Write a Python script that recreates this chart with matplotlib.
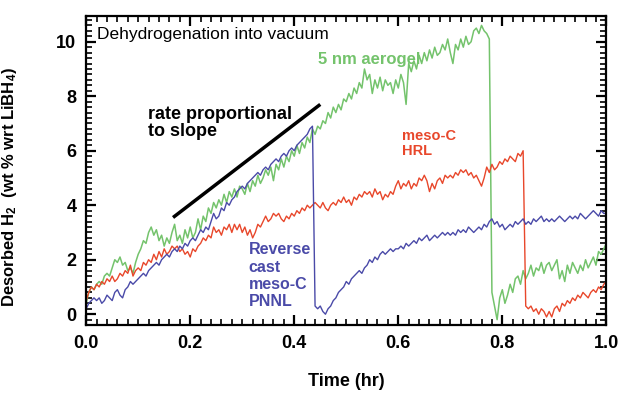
import numpy as np
import matplotlib
matplotlib.use('Agg')
import matplotlib.pyplot as plt
from matplotlib.ticker import MultipleLocator

plt.rcParams['font.family'] = ['Liberation Sans', 'DejaVu Sans']
plt.rcParams['mathtext.fontset'] = 'custom'
plt.rcParams['mathtext.bf'] = 'Liberation Sans:bold'
plt.rcParams['mathtext.rm'] = 'Liberation Sans:bold'
plt.rcParams['mathtext.default'] = 'bf'

# time grid (hr), one reading every 0.005 hr
t = np.round(np.arange(0, 201) * 0.005, 3)

aerogel = [
    0.4, 0.8, 1.0, 0.9, 1.1, 1.2, 1.1, 1.4, 1.5, 1.4, 1.7, 2.0, 1.9, 2.1, 1.8, 1.9, 1.6, 1.7, 1.5, 1.9,
    2.2, 2.4, 2.7, 2.6, 3.0, 3.2, 2.9, 3.1, 2.7, 2.9, 2.5, 2.8, 2.6, 3.0, 3.3, 2.7, 2.9, 2.6, 3.1, 2.8,
    3.2, 2.8, 3.0, 3.5, 3.1, 3.6, 3.4, 3.9, 3.7, 4.1, 3.9, 4.2, 4.0, 4.4, 4.1, 4.5, 4.3, 4.6, 4.3, 4.7,
    4.6, 4.4, 4.8, 4.5, 4.9, 4.7, 5.1, 4.8, 5.0, 5.3, 5.1, 5.4, 4.9, 5.5, 5.3, 5.7, 5.4, 5.8, 5.6, 6.0,
    5.8, 6.2, 5.9, 6.3, 6.1, 6.5, 6.3, 6.8, 6.6, 6.9, 6.8, 7.1, 7.0, 7.4, 7.2, 7.6, 7.4, 7.7, 7.5, 7.9,
    7.8, 8.1, 7.9, 8.3, 8.1, 8.5, 8.3, 9.0, 8.6, 8.8, 8.1, 8.6, 8.3, 8.7, 8.2, 8.6, 8.4, 8.5, 8.1, 8.6,
    8.3, 8.8, 8.5, 7.7, 9.2, 8.9, 9.3, 9.0, 9.5, 9.2, 9.6, 9.3, 9.7, 9.4, 9.8, 9.5, 9.6, 9.9, 9.7, 10.1,
    9.6, 9.2, 9.9, 9.7, 10.1, 9.8, 10.2, 9.9, 10.0, 10.4, 10.5, 10.3, 10.6, 10.4, 10.3, 10.1, 0.8, 0.3, -0.2, 0.6,
    0.9, 0.4, 0.7, 1.1, 0.8, 1.3, 1.4, 1.1, 1.6, 1.3, 1.5, 1.8, 1.4, 1.7, 1.6, 1.9, 1.5, 1.8, 1.9, 1.6,
    1.8, 2.0, 1.3, 1.6, 1.2, 1.8, 1.5, 1.9, 1.7, 1.5, 1.8, 1.6, 2.0, 1.7, 1.9, 2.1, 1.8, 2.3, 2.2, 2.4,
    2.6,
]

meso_hrl = [
    0.5, 0.8, 1.0, 0.9, 1.1, 1.0, 1.2, 1.1, 1.3, 1.2, 1.4, 1.2, 1.3, 1.5, 1.4, 1.6, 1.5, 1.8, 1.4, 1.6,
    1.7, 1.6, 1.9, 1.8, 2.0, 1.9, 2.2, 2.0, 2.3, 2.1, 2.4, 2.2, 2.3, 2.5, 2.4, 2.5, 2.3, 2.4, 2.2, 2.3,
    2.1, 2.4, 2.3, 2.5, 2.6, 2.8, 2.7, 2.9, 2.8, 3.2, 3.0, 3.1, 2.9, 3.2, 3.1, 3.3, 3.0, 3.3, 3.1, 3.3,
    3.0, 3.2, 2.9, 3.1, 2.8, 3.0, 3.3, 3.2, 3.4, 3.6, 3.4, 3.5, 3.7, 3.6, 3.7, 3.5, 3.4, 3.6, 3.5, 3.7,
    3.6, 3.8, 3.7, 3.9, 3.8, 4.0, 3.9, 4.0, 4.1, 4.0, 3.9, 4.1, 3.9, 3.8, 4.0, 4.1, 4.0, 4.2, 4.1, 4.3,
    4.1, 4.2, 4.0, 4.3, 4.2, 4.4, 4.3, 4.5, 4.4, 4.5, 4.3, 4.6, 4.4, 4.5, 4.2, 4.4, 4.3, 4.5, 4.4, 4.7,
    4.9, 4.6, 4.8, 4.7, 4.9, 4.6, 4.8, 4.7, 5.0, 4.9, 5.1, 4.9, 4.5, 4.8, 4.6, 4.9, 5.0, 4.8, 5.1, 5.0,
    5.1, 5.0, 5.2, 5.1, 5.3, 5.2, 5.3, 5.1, 5.2, 5.0, 5.1, 4.9, 4.7, 5.0, 5.4, 5.2, 5.5, 5.3, 5.4, 5.6,
    5.5, 5.7, 5.6, 5.8, 5.7, 5.6, 5.9, 5.8, 6.0, 0.3, 0.2, 0.3, 0.1, 0.2, 0.0, 0.2, 0.1, -0.1, 0.1, -0.1,
    0.2, 0.3, 0.1, 0.4, 0.3, 0.5, 0.4, 0.6, 0.5, 0.7, 0.6, 0.8, 0.7, 0.6, 0.8, 0.9, 0.8, 1.0, 0.9, 1.1,
    1.2,
]

meso_pnnl = [
    0.2, 0.4, 0.5, 0.6, 0.5, 0.6, 0.4, 0.5, 0.7, 0.6, 0.5, 0.8, 0.9, 0.7, 0.6, 0.9, 1.0, 1.2, 1.1, 1.2,
    1.3, 1.4, 1.5, 1.4, 1.6, 1.7, 1.8, 1.9, 1.8, 2.0, 2.1, 2.2, 2.1, 2.3, 2.4, 2.3, 2.5, 2.4, 2.6, 2.5,
    2.7, 2.8, 2.7, 2.9, 3.1, 3.0, 3.2, 3.1, 3.4, 3.7, 3.5, 3.6, 3.9, 3.8, 4.1, 4.0, 4.2, 4.3, 4.5, 4.6,
    4.7, 4.6, 4.8, 4.9, 5.0, 5.1, 5.2, 5.1, 5.3, 5.4, 5.3, 5.5, 5.6, 5.7, 5.6, 5.8, 5.9, 5.8, 6.0, 6.1,
    6.0, 6.2, 6.3, 6.4, 6.5, 6.6, 6.8, 6.9, 0.3, 0.2, 0.3, 0.1, 0.0, 0.2, 0.3, 0.5, 0.6, 0.8, 0.9, 1.0,
    1.2, 1.1, 1.3, 1.4, 1.5, 1.6, 1.5, 1.7, 1.8, 2.0, 1.9, 2.1, 2.0, 2.2, 2.3, 2.2, 2.3, 2.4, 2.3, 2.4,
    2.4, 2.5, 2.4, 2.6, 2.5, 2.6, 2.7, 2.6, 2.8, 2.7, 2.8, 2.9, 2.7, 2.8, 2.9, 2.8, 2.9, 3.0, 2.9, 3.0,
    2.9, 3.0, 2.9, 3.1, 3.0, 3.1, 3.0, 3.2, 3.1, 3.0, 3.1, 3.2, 3.1, 3.3, 3.2, 3.4, 3.5, 3.3, 3.4, 3.2,
    3.3, 3.1, 3.2, 3.3, 3.2, 3.4, 3.3, 3.4, 3.5, 3.3, 3.4, 3.3, 3.5, 3.4, 3.5, 3.6, 3.4, 3.5, 3.4, 3.5,
    3.4, 3.5, 3.6, 3.5, 3.4, 3.5, 3.6, 3.5, 3.6, 3.5, 3.7, 3.6, 3.5, 3.6, 3.7, 3.8, 3.7, 3.6, 3.8, 3.7,
    3.7,
]

# guide line "rate proportional to slope"
slope_x = [0.167, 0.45]
slope_y = [3.55, 7.7]

green = '#74c36c'
red = '#e8472b'
blue = '#4a4aa8'

fig = plt.figure(figsize=(6.2, 3.96), dpi=100)
ax = fig.add_axes([0.139, 0.179, 0.839, 0.781])

ax.plot(t, aerogel, color=green, lw=1.1)
ax.plot(t, meso_hrl, color=red, lw=1.0)
ax.plot(t, meso_pnnl, color=blue, lw=1.0)
ax.plot(slope_x, slope_y, color='black', lw=2.5, solid_capstyle='butt')

ax.set_xlim(0, 1.0)
ax.set_ylim(-0.4, 10.95)
ax.xaxis.set_major_locator(MultipleLocator(0.2))
ax.xaxis.set_minor_locator(MultipleLocator(0.02))
ax.yaxis.set_major_locator(MultipleLocator(2))
ax.yaxis.set_minor_locator(MultipleLocator(0.2))
ax.set_xticks([0, 0.2, 0.4, 0.6, 0.8, 1.0])
ax.set_xticklabels(['0.0', '0.2', '0.4', '0.6', '0.8', '1.0'])
ax.tick_params(which='both', direction='in', top=True, right=True, color='black')
ax.tick_params(which='major', length=7, width=1.6, labelsize=13, pad=7)
ax.tick_params(which='minor', length=4, width=1.2)
for lab in ax.get_xticklabels() + ax.get_yticklabels():
    lab.set_fontweight('bold')
for s in ax.spines.values():
    s.set_linewidth(1.6)

ax.set_xlabel('Time (hr)', fontsize=13, fontweight='bold', labelpad=15)
ax.set_ylabel('Desorbed H$_2$  (wt % wrt LiBH$_4$)', fontsize=12, fontweight='bold')
ax.yaxis.set_label_coords(-0.13, 0.445)

ax.text(0.021, 10.25, 'Dehydrogenation into vacuum', fontsize=12.5, va='center', ha='left')
ax.text(0.545, 9.35, '5 nm aerogel', fontsize=12, color=green, fontweight='bold', va='center', ha='center')
ax.text(0.118, 7.0, 'rate proportional\nto slope', fontsize=13, fontweight='bold', va='center', ha='left',
        linespacing=1.0)
ax.text(0.607, 6.27, 'meso-C\nHRL', fontsize=10.5, color=red, fontweight='bold', va='center', ha='left',
        linespacing=1.15)
ax.text(0.312, 1.41, 'Reverse\ncast\nmeso-C\nPNNL', fontsize=11.5, color=blue, fontweight='bold',
        va='center', ha='left', linespacing=1.2)

fig.savefig('out.png', dpi=100)
